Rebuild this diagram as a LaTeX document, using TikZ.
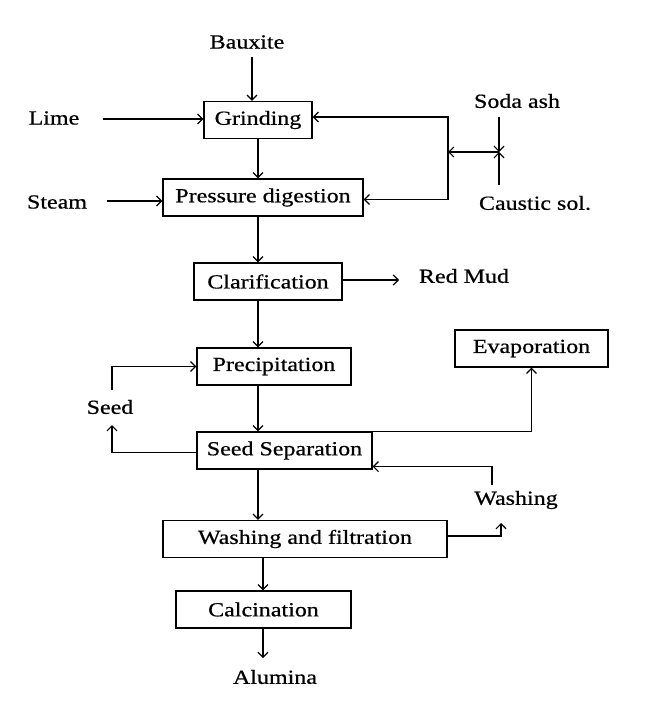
\documentclass[tikz,border=0pt]{standalone}
\usepackage{fontspec}
\setmainfont{Liberation Serif}[FakeStretch=1.2,FakeBold=0.6]
\usetikzlibrary{arrows.meta}

\begin{document}
\begin{tikzpicture}[x=1pt,y=-1pt,line width=1.2pt,
    font=\fontsize{20}{24}\selectfont,
    box/.style={draw,inner sep=0pt,minimum height=37pt},
    arr/.style={-{Straight Barb[length=5pt,width=10pt]}}]
  \useasboundingbox (0,0) rectangle (654,711);
  % process boxes
  \node[box,minimum width=108pt] (grind) at (258,120) {Grinding};
  \node[box,minimum width=200pt] (press) at (263,197.5) {Pressure digestion};
  \node[box,minimum width=148pt] (clar) at (268,281.5) {Clarification};
  \node[box,minimum width=154pt] (precip) at (274,366.5) {Precipitation};
  \node[box,minimum width=153pt] (evap) at (531.5,348.5) {Evaporation};
  \node[box,minimum width=175pt] (seedsep) at (284.5,450.5) {Seed Separation};
  \node[box,minimum width=284pt] (wash) at (305,539) {Washing and filtration};
  \node[box,minimum width=175pt] (calc) at (263.5,609.5) {Calcination};
  % inputs and outputs
  \node (bauxite) at (247,42) {Bauxite};
  \node (lime) at (54,118) {Lime};
  \node (steam) at (57,202) {Steam};
  \node (soda) at (517,101) {Soda ash};
  \node (caustic) at (535,203) {Caustic sol.};
  \node (redmud) at (464,276) {Red Mud};
  \node (seed) at (110,407) {Seed};
  \node (washing) at (516,500) {Washing};
  \node (alumina) at (275,677) {Alumina};
  % free ends
  \coordinate (btop) at (252,57);
  \coordinate (limeend) at (103,119);
  \coordinate (steamend) at (107,201);
  \coordinate (j) at (448,152);
  \coordinate (k) at (499,152);
  \coordinate (sodaend) at (499,117);
  \coordinate (causend) at (499,185);
  \coordinate (mudend) at (399,280);
  \coordinate (seedlo) at (112,425);
  \coordinate (seedhi) at (112,390);
  \coordinate (wup) at (492,485);
  \coordinate (wdn) at (501,523);
  \coordinate (alend) at (263,658);
  % connectors
  \draw[arr] (btop) -- (btop |- grind.north);
  \draw[arr] (limeend) -- (limeend -| grind.west);
  \draw[arr] (steamend) -- (steamend -| press.west);
  \draw[arr] (grind.south) -- (grind.south |- press.north);
  \draw[arr] (j) |- ([yshift=3pt]grind.east);
  \draw[arr] (j) |- ([yshift=-2pt]press.east);
  \draw[arr] (k) -- (j);
  \draw[arr] (sodaend) -- (k);
  \draw[arr] (causend) -- (k);
  \draw[arr] (grind.south |- press.south) -- (grind.south |- clar.north);
  \draw[arr] (mudend -| clar.east) -- (mudend);
  \draw[arr] (grind.south |- clar.south) -- (grind.south |- precip.north);
  \draw[arr] (grind.south |- precip.south) -- (grind.south |- seedsep.north);
  \draw[arr] ([yshift=-2pt]seedsep.west) -| (seedlo);
  \draw[arr] (seedhi) |- (precip.west);
  \draw[arr] (seedsep.north east) -| (evap.south);
  \draw[arr] (wup) |- ([yshift=3pt]seedsep.south east);
  \draw[arr] ([yshift=3pt]wash.east) -| (wdn);
  \draw[arr] (grind.south |- seedsep.south) -- (grind.south |- wash.north);
  \draw[arr] (alend |- wash.south) -- (alend |- calc.north);
  \draw[arr] (alend |- calc.south) -- (alend);
\end{tikzpicture}
\end{document}
